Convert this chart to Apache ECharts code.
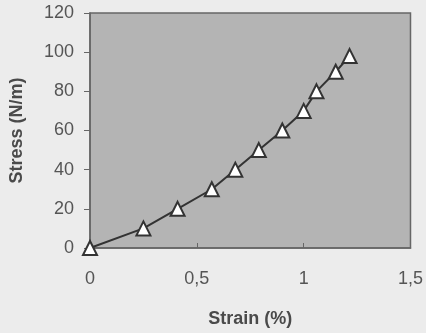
<!DOCTYPE html>
<html>
<head>
<meta charset="utf-8">
<script src="https://cdn.jsdelivr.net/npm/echarts@6/dist/echarts.min.js"></script>
<style>
  html, body { margin: 0; padding: 0; background: #ececec; }
  #chart { width: 426px; height: 333px; }
</style>
</head>
<body>
<div id="chart"></div>
<script>
// Data
const strain = [0, 0.25, 0.41, 0.57, 0.68, 0.79, 0.9, 1.0, 1.06, 1.15, 1.215];
const stress = [0, 10, 20, 30, 40, 50, 60, 70, 80, 90, 98];

const points = strain.map((x, i) => [x, stress[i]]);

const chart = echarts.init(document.getElementById("chart"));

const option = {
  backgroundColor: "#ececec",
  animation: false,
  grid: {
    left: 89,
    right: 15,
    top: 13,
    bottom: 83,
    show: true,
    backgroundColor: "#b4b4b4",
    borderColor: "#666",
    borderWidth: 1.5,
  },
  xAxis: {
    type: "value",
    min: 0,
    max: 1.5,
    interval: 0.5,
    name: "Strain (%)",
    nameLocation: "middle",
    nameGap: 62,
    nameTextStyle: {
      fontFamily: "Liberation Sans",
      fontWeight: "bold",
      fontSize: 18,
      color: "#4a4a4a",
    },
    axisLine: { lineStyle: { color: "#666", width: 1.5 } },
    axisTick: { inside: true, length: 5, lineStyle: { color: "#666" } },
    splitLine: { show: false },
    axisLabel: {
      margin: 22,
      fontFamily: "Liberation Sans",
      fontSize: 18,
      color: "#555",
      formatter: (v) => String(v).replace(".", ","),
    },
  },
  yAxis: {
    type: "value",
    min: 0,
    max: 120,
    interval: 20,
    name: "Stress (N/m)",
    nameLocation: "middle",
    nameGap: 64,
    nameTextStyle: {
      fontFamily: "Liberation Sans",
      fontWeight: "bold",
      fontSize: 18,
      color: "#4a4a4a",
    },
    axisLine: { show: true, lineStyle: { color: "#666", width: 1.5 } },
    axisTick: { show: true, length: 6, lineStyle: { color: "#666" } },
    splitLine: { show: false },
    axisLabel: {
      margin: 16,
      fontFamily: "Liberation Sans",
      fontSize: 18,
      color: "#555",
    },
  },
  series: [
    {
      type: "line",
      data: points,
      symbol: "triangle",
      symbolSize: 14,
      lineStyle: { color: "#333", width: 2 },
      itemStyle: { color: "#fff", borderColor: "#333", borderWidth: 2 },
    },
  ],
};

chart.setOption(option);
</script>
</body>
</html>
